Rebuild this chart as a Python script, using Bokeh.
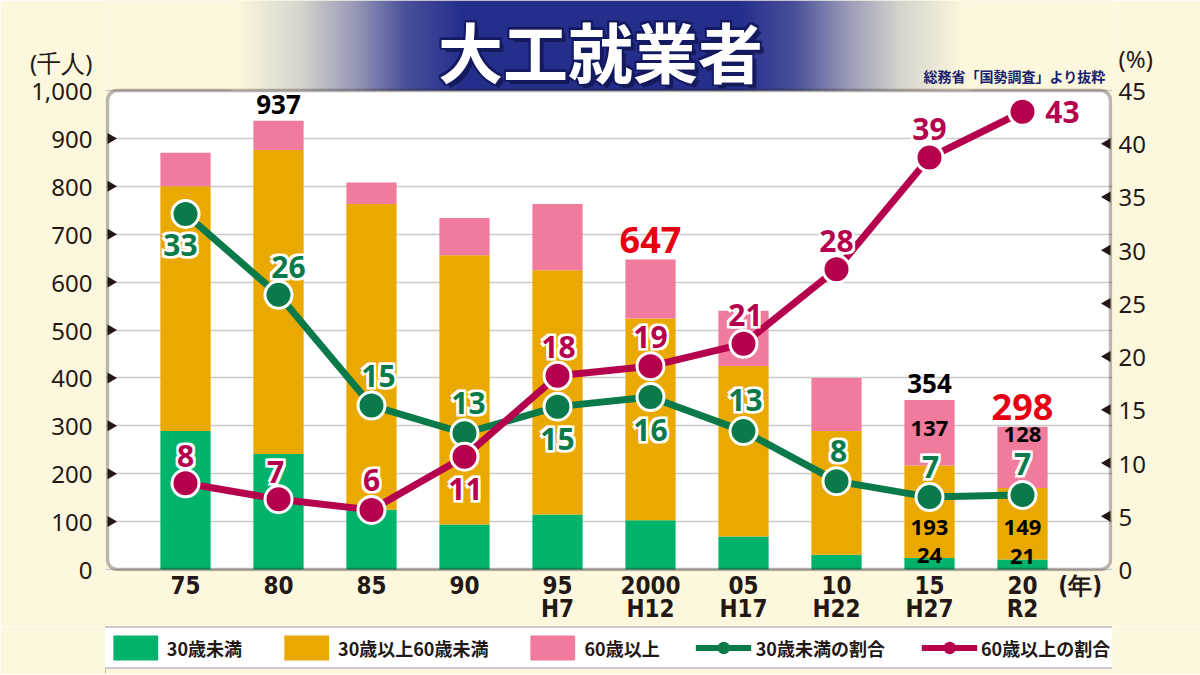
import math
from bokeh.plotting import figure
from bokeh.models import (Range1d, LinearAxis, FixedTicker, Legend, LegendItem,
                          ColumnDataSource, BoxAnnotation)
from bokeh.layouts import column
from bokeh.embed import file_html
from bokeh.resources import INLINE
from bokeh.core.properties import value

# ---------------- data ----------------
years = ["75", "80", "85", "90", "95", "2000", "05", "10", "15", "20"]
eras = ["", "", "", "", "H7", "H12", "H17", "H22", "H27", "R2"]
under30 = [289, 241, 125, 94, 115, 103, 69, 31, 24, 21]          # 千人
age30_60 = [511, 635, 638, 562, 510, 421, 356, 258, 193, 149]    # 千人
over60 = [70, 61, 45, 78, 138, 123, 115, 111, 137, 128]          # 千人
under30_pct = [33.4, 25.8, 15.4, 12.8, 15.3, 16.2, 13.0, 8.3, 6.8, 7.0]   # %
over60_pct = [8.1, 6.6, 5.6, 10.6, 18.2, 19.1, 21.2, 28.2, 38.7, 43.0]    # %
left_ticks = [0, 100, 200, 300, 400, 500, 600, 700, 800, 900, 1000]
right_ticks = [0, 5, 10, 15, 20, 25, 30, 35, 40, 45]
total_black_idx = [1, 8]     # totals printed in black
total_red_idx = [5, 9]       # totals printed in red
inner_idx = [8, 9]           # bars whose segments are labelled
series_names = ["30歳未満", "30歳以上60歳未満", "60歳以上", "30歳未満の割合", "60歳以上の割合"]
title_text = "大工就業者"
source_text = "総務省「国勢調査」より抜粋"
left_unit, right_unit, x_unit = "(千人)", "(%)", "(年)"

# ---------------- style / layout ----------------
CREAM = "#fdf8dd"
DARK = "#231815"
GREEN_BAR = "#00b36b"
ORANGE = "#eaa900"
PINK = "#f07b9c"
GREEN_LINE = "#0b7a4b"
CRIMSON = "#b5004e"
RED = "#e60012"
NAVY = (38, 46, 140)
W = 1200
PX_X = 93.0                 # px per category
PX_Y = 0.479                # px per 千人
PX_P = PX_Y * 1000 / 45     # px per %
FRAME_L, FRAME_R = 105, 1112          # page x of frame edges
ZERO_PX = 569                         # page y of value 0
FRAME_BOTTOM = 571
X0_PX = 185                           # page x of first category
NUM_FONT = "Noto Sans"
JP_FONT = "Noto Sans CJK JP"
NARROW = "'Liberation Sans Narrow', 'DejaVu Sans Condensed', 'Noto Sans', sans-serif"

xs_start = -(X0_PX - FRAME_L) / PX_X
xs_end = (FRAME_R - X0_PX) / PX_X
ys_start = -(FRAME_BOTTOM - ZERO_PX) / PX_Y
ys_end = ZERO_PX / PX_Y
ps_start = -(FRAME_BOTTOM - ZERO_PX) / PX_P
ps_end = ZERO_PX / PX_P


def px2x(px):
    return xs_start + (px - FRAME_L) / PX_X


def py2y(py):
    return (ZERO_PX - py) / PX_Y


def py2p(py):
    return (ZERO_PX - py) / PX_P


# label offsets (px) relative to points
g_dx = [-5, 10, 7, 4, 0, 0, 2, 2, 1, 0]
g_dy = [31, -28, -30, -30, 32, 33, -31, -30, -30, -31]
r_dx = [0, -3, 0, 1, 1, 0, 2, 0, 0, 40]
r_dy = [-27, -27, -30, 32, -29, -29, -29, -28, -29, 0]
inner_dy = {8: [62, 29, -3], 9: [39, 8, -3]}


def halo_text(fig, data, color, size, halo="white", hp=2.0, **kw):
    """text with a thick halo: halo copies underneath, plain text on top"""
    n = len(data["x"])
    dx = data.get("dx", [0] * n)
    dy = data.get("dy", [0] * n)
    for ox, oy in [(-hp, -hp), (hp, -hp), (-hp, hp), (hp, hp)]:
        d = dict(x=data["x"], y=data["y"], t=data["t"],
                 dx=[a + ox for a in dx], dy=[b + oy for b in dy])
        common = dict(x="x", y="y", text="t", source=ColumnDataSource(d), text_color=halo,
                      text_font_size=size, text_align="center", text_baseline="middle",
                      x_offset="dx", y_offset="dy", **kw)
        try:
            fig.text(text_outline_color=halo, **common)
        except Exception:
            fig.text(**common)
    d = dict(x=data["x"], y=data["y"], t=data["t"], dx=dx, dy=dy)
    return fig.text(x="x", y="y", text="t", source=ColumnDataSource(d), text_color=color,
                    text_font_size=size, text_align="center", text_baseline="middle",
                    x_offset="dx", y_offset="dy", **kw)


# ---------------- main chart ----------------
p = figure(frame_width=FRAME_R - FRAME_L, frame_height=FRAME_BOTTOM,
           x_range=Range1d(xs_start, xs_end), y_range=Range1d(ys_start, ys_end),
           output_backend="svg", toolbar_location=None,
           min_border_left=FRAME_L, min_border_right=W - FRAME_R, min_border_top=0,
           min_border_bottom=46,
           background_fill_color=CREAM, border_fill_color=CREAM, outline_line_color=None)
p.extra_y_ranges = {"pct": Range1d(ps_start, ps_end)}

xs = list(range(len(years)))
src = ColumnDataSource(dict(x=xs, u=under30, m=age30_60, o=over60, gp=under30_pct, rp=over60_pct))

# white plot box (under everything) and rounded border (over everything)
box_l = px2x(FRAME_L + 2)
box_r = px2x(FRAME_R - 2)
p.add_layout(BoxAnnotation(left=box_l, right=box_r, bottom=0, top=1000, fill_color="white", fill_alpha=1,
                           line_color=None, border_radius=10, level="image"))
p.add_layout(BoxAnnotation(left=box_l, right=box_r, bottom=0, top=1000, fill_alpha=0, line_color=DARK,
                           line_width=3.5, border_radius=10, level="overlay"))

# banner gradient + title (drawn above the 1000 line)
cream_rgb = tuple(int(CREAM[i:i + 2], 16) for i in (1, 3, 5))
stops = [(0, NAVY), (140, NAVY), (195, (74, 80, 154)), (245, (150, 152, 182)),
         (300, (214, 212, 205)), (365, cream_rgb)]


def grad_color(d):
    for (d0, c0), (d1, c1) in zip(stops[:-1], stops[1:]):
        if d <= d1:
            t = max(0.0, min(1.0, (d - d0) / (d1 - d0) if d1 > d0 else 0))
            return "#%02x%02x%02x" % tuple(int(round(a + (b - a) * t)) for a, b in zip(c0, c1))
    return "#%02x%02x%02x" % cream_rgb


CX = 600
gl, gr, gc = [], [], []
for xx in range(CX - 370, CX + 370, 2):
    gl.append(px2x(xx))
    gr.append(px2x(xx + 2.6))
    gc.append(grad_color(abs(xx + 1 - CX)))
p.quad(left=gl, right=gr, bottom=1000, top=ys_end, fill_color=gc, line_color=None)

tx, ty = px2x(CX), py2y(49)
p.text(x=[tx], y=[ty], text=[title_text], x_offset=4, y_offset=4, text_font=value(JP_FONT),
       text_font_style="bold", text_font_size="65px", text_color="#070b30", text_alpha=0.55,
       text_align="center", text_baseline="middle")
halo_text(p, dict(x=[tx], y=[ty], t=[title_text]), "white", "65px", halo="#141a62", hp=1.5,
          text_font=value(JP_FONT), text_font_style="bold")

p.text(x=[px2x(1105)], y=[py2y(75)], text=[source_text], text_font=value(JP_FONT),
       text_font_style="bold", text_font_size="14px", text_color="#1b1f6e",
       text_align="right", text_baseline="middle")

# axes
xticks = xs + [9.62]
p.xaxis.ticker = FixedTicker(ticks=xticks)
ov = {i: (y if not e else y + "\n" + e) for i, (y, e) in enumerate(zip(years, eras))}
ov[9.62] = x_unit
p.xaxis.major_label_overrides = ov
p.xaxis.axis_line_color = None
p.xaxis.major_tick_line_color = None
p.xaxis.major_tick_in = 0
p.xaxis.major_tick_out = 0
p.xaxis.minor_tick_line_color = None
p.xaxis.minor_tick_out = 0
p.xaxis.major_label_text_font = NARROW
p.xaxis.major_label_text_font_style = "bold"
p.xaxis.major_label_text_font_size = "24px"
p.xaxis.major_label_text_color = DARK
p.xaxis.major_label_text_line_height = 0.85
p.xaxis.major_label_standoff = 0

unit_y_left = round(py2y(62))
ya = p.yaxis[0]
ya.ticker = FixedTicker(ticks=left_ticks + [unit_y_left])
ya.major_label_overrides = {t: f"{t:,}" for t in left_ticks} | {unit_y_left: left_unit}
ya.axis_line_color = None
ya.minor_tick_line_color = None
ya.major_tick_line_color = None
ya.major_tick_in = 0
ya.major_tick_out = 0
ya.minor_tick_out = 0
ya.major_label_text_font = NUM_FONT
ya.major_label_text_font_size = "24px"
ya.major_label_text_color = DARK
ya.major_label_standoff = 13

unit_y_right = round(py2p(58), 1)
ra = LinearAxis(y_range_name="pct", ticker=FixedTicker(ticks=right_ticks + [unit_y_right]))
ra.major_label_overrides = {t: str(t) for t in right_ticks} | {unit_y_right: right_unit}
ra.axis_line_color = None
ra.minor_tick_line_color = None
ra.major_tick_line_color = None
ra.major_tick_in = 0
ra.major_tick_out = 0
ra.minor_tick_out = 0
ra.major_label_text_font = NUM_FONT
ra.major_label_text_font_size = "24px"
ra.major_label_text_color = DARK
ra.major_label_standoff = 6
p.add_layout(ra, "right")

p.xgrid.grid_line_color = None
p.ygrid.ticker = FixedTicker(ticks=left_ticks)
p.ygrid.grid_line_color = "#c9c9c9"
p.ygrid.grid_line_width = 1.6

# triangular tick marks at the inner edges of the box
p.scatter(x=[px2x(FRAME_L + 2 + 3.2)] * 9, y=left_ticks[1:-1], marker="triangle", angle=-math.pi / 2,
          size=11, fill_color=DARK, line_color=None)
p.scatter(x=[px2x(FRAME_R - 2 - 3.2)] * 8, y=right_ticks[1:-1], y_range_name="pct", marker="triangle",
          angle=math.pi / 2, size=11, fill_color=DARK, line_color=None)

# bars
bars = p.vbar_stack(["u", "m", "o"], x="x", width=0.54, source=src,
                    fill_color=[GREEN_BAR, ORANGE, PINK], line_color=None)

# lines
p.line("x", "gp", source=src, y_range_name="pct", line_color=GREEN_LINE, line_width=7)
p.scatter("x", "gp", source=src, y_range_name="pct", size=27, fill_color=GREEN_LINE,
          line_color="white", line_width=3)
p.line("x", "rp", source=src, y_range_name="pct", line_color=CRIMSON, line_width=7)
p.scatter("x", "rp", source=src, y_range_name="pct", size=27, fill_color=CRIMSON,
          line_color="white", line_width=3)

# line value labels
halo_text(p, dict(x=xs, y=under30_pct, t=[str(round(v)) for v in under30_pct], dx=g_dx, dy=g_dy),
          GREEN_LINE, "30px", y_range_name="pct", text_font=value(NUM_FONT), text_font_style="bold")
halo_text(p, dict(x=xs, y=over60_pct, t=[str(round(v)) for v in over60_pct], dx=r_dx, dy=r_dy),
          CRIMSON, "30px", y_range_name="pct", text_font=value(NUM_FONT), text_font_style="bold")

# totals
totals = [a + b + c for a, b, c in zip(under30, age30_60, over60)]
p.text(x=[xs[i] for i in total_black_idx], y=[totals[i] for i in total_black_idx],
       text=[str(totals[i]) for i in total_black_idx], y_offset=-16,
       text_font=value(NUM_FONT), text_font_style="bold", text_font_size="26px", text_color="black",
       text_align="center", text_baseline="middle")
p.text(x=[xs[i] for i in total_red_idx], y=[totals[i] for i in total_red_idx],
       text=[str(totals[i]) for i in total_red_idx], y_offset=-20,
       text_font=value(NUM_FONT), text_font_style="bold", text_font_size="36px", text_color=RED,
       text_align="center", text_baseline="middle")

# segment labels
ix, iy, it, idy = [], [], [], []
for i in inner_idx:
    tops = [under30[i] + age30_60[i], totals[i], under30[i]]
    vals = [age30_60[i], over60[i], under30[i]]
    for k in range(3):
        ix.append(xs[i])
        iy.append(tops[k])
        it.append(str(vals[k]))
        idy.append(inner_dy[i][k])
p.text(x=ix, y=iy, text=it, y_offset=idy, text_font=value(NUM_FONT), text_font_style="bold",
       text_font_size="22px", text_color="black", text_align="center", text_baseline="middle")

# ---------------- legend strip ----------------
LEG_H = 48
lf = figure(width=W, height=LEG_H, x_range=Range1d(0, 1), y_range=Range1d(0, 1),
            output_backend="svg", toolbar_location=None, min_border=0,
            x_axis_location=None, y_axis_location=None,
            outline_line_color=None, background_fill_color=CREAM, border_fill_color=CREAM)
lf.grid.visible = False
# legend-only renderers (their single point lies outside the visible range)
lb = [lf.vbar(x=[-5], top=[1], width=0.5, fill_color=c, line_color=None) for c in (GREEN_BAR, ORANGE, PINK)]
lg_l = lf.line(x=[-5, -4], y=[0.5, 0.5], line_color=GREEN_LINE, line_width=6)
lg_s = lf.scatter(x=[-5], y=[0.5], size=20, fill_color=GREEN_LINE, line_color=None)
lr_l = lf.line(x=[-5, -4], y=[0.5, 0.5], line_color=CRIMSON, line_width=6)
lr_s = lf.scatter(x=[-5], y=[0.5], size=20, fill_color=CRIMSON, line_color=None)
legend = Legend(items=[
    LegendItem(label=series_names[0], renderers=[lb[0]]),
    LegendItem(label=series_names[1], renderers=[lb[1]]),
    LegendItem(label=series_names[2], renderers=[lb[2]]),
    LegendItem(label=series_names[3], renderers=[lg_l, lg_s]),
    LegendItem(label=series_names[4], renderers=[lr_l, lr_s]),
], orientation="horizontal", location="top")
legend.label_text_font = JP_FONT
legend.label_text_font_style = "bold"
legend.label_text_font_size = "18px"
legend.label_text_color = DARK
legend.glyph_width = 56
legend.glyph_height = 31
legend.label_standoff = 4
legend.spacing = 36
legend.padding = 4
legend.margin = 0
legend.border_line_color = "#9a9a9a"
legend.border_line_width = 2
legend.background_fill_color = "white"
legend.background_fill_alpha = 1
lf.add_layout(legend)

layout = column(p, lf, spacing=0)
open("out.html", "w").write(file_html(layout, INLINE))
